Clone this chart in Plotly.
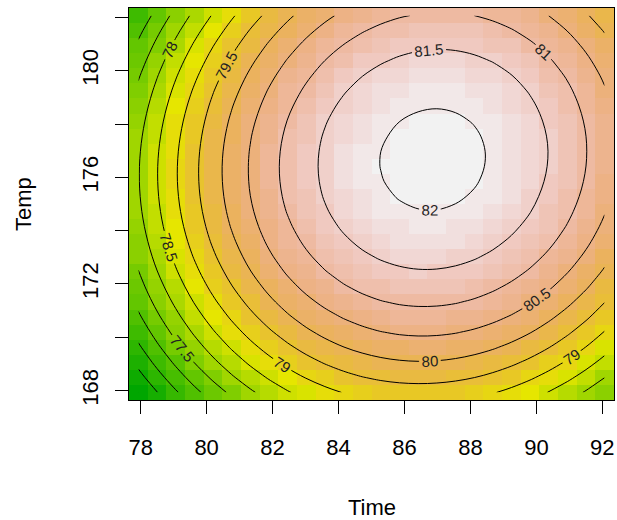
import colorsys
import numpy as np
import plotly.graph_objects as go

# Fitted second-order response surface (coded units: x1=(Time-85)/5, x2=(Temp-175)/5)
coef_names = ["(Intercept)", "x1", "x2", "x1:x2", "x1^2", "x2^2"]
coef_values = [81.866, 0.932738, 0.577837, 0.125, -1.308348, -0.933348]
time_center, time_step = 85.0, 5.0
temp_center, temp_step = 175.0, 5.0
coded_limit = np.sqrt(2)          # axial distance of the design
grid_points = 26

# contour levels
level_start, level_end, level_size = 75.5, 82.0, 0.5

# axis ticks
x_ticks = [78, 80, 82, 84, 86, 88, 90, 92]
y_ticks = [168, 170, 172, 174, 176, 178, 180, 182]
y_tick_text = ["168", "", "172", "", "176", "", "180", ""]

# ---------------------------------------------------------------
coef = dict(zip(coef_names, coef_values))
x1 = np.linspace(-coded_limit, coded_limit, grid_points)
x2 = np.linspace(-coded_limit, coded_limit, grid_points)
time = time_center + time_step * x1
temp = temp_center + temp_step * x2
X1, X2 = np.meshgrid(x1, x2)
Z = (coef["(Intercept)"] + coef["x1"] * X1 + coef["x2"] * X2 + coef["x1:x2"] * X1 * X2
     + coef["x1^2"] * X1 ** 2 + coef["x2^2"] * X2 ** 2)


def terrain_colors(n):
    k = n // 2
    cols = []
    h = np.linspace(4 / 12, 2 / 12, k)
    s = np.linspace(1, 1, k)
    v = np.linspace(0.65, 0.9, k)
    h2 = np.linspace(2 / 12, 0, n - k + 1)[1:]
    s2 = np.linspace(1, 0, n - k + 1)[1:]
    v2 = np.linspace(0.9, 0.95, n - k + 1)[1:]
    for hh, ss, vv in zip(np.r_[h, h2], np.r_[s, s2], np.r_[v, v2]):
        r, g, b = colorsys.hsv_to_rgb(hh, ss, vv)
        cols.append("rgb(%d,%d,%d)" % (round(r * 255), round(g * 255), round(b * 255)))
    return cols


ncol = 50
cols = terrain_colors(ncol)
cscale = []
for i, c in enumerate(cols):
    cscale.append([i / ncol, c])
    cscale.append([(i + 1) / ncol, c])

fig = go.Figure()
fig.add_trace(go.Heatmap(x=time, y=temp, z=Z, colorscale=cscale, zmin=Z.min(), zmax=Z.max(),
                         showscale=False, hoverinfo="skip"))
fig.add_trace(go.Contour(
    x=time, y=temp, z=Z, showscale=False,
    contours=dict(start=level_start, end=level_end, size=level_size, coloring="none",
                  showlabels=True,
                  labelfont=dict(size=15, color="#222222", family="Liberation Sans")),
    line=dict(color="black", width=1),
))

half_x = (time[1] - time[0]) / 2
half_y = (temp[1] - temp[0]) / 2
axis_font = dict(family="Liberation Sans", size=22, color="black")
fig.update_layout(
    width=617, height=520,
    margin=dict(l=129, r=3, t=8, b=120),
    paper_bgcolor="white", plot_bgcolor="white",
    font=axis_font,
    showlegend=False,
    xaxis=dict(range=[time[0] - half_x, time[-1] + half_x], tickvals=x_ticks,
               ticks="outside", ticklen=13, tickwidth=1, tickcolor="black",
               ticklabelstandoff=15,
               showline=True, mirror=True, linecolor="black", linewidth=1,
               showgrid=False, zeroline=False, tickfont=axis_font),
    yaxis=dict(range=[temp[0] - half_y, temp[-1] + half_y], tickvals=y_ticks,
               ticktext=y_tick_text, tickangle=-90,
               ticks="outside", ticklen=13, tickwidth=1, tickcolor="black",
               ticklabelstandoff=8,
               showline=True, mirror=True, linecolor="black", linewidth=1,
               showgrid=False, zeroline=False, tickfont=axis_font),
    annotations=[
        dict(text="Time", xref="paper", yref="paper", x=0.5, y=(400 - 507) / 392,
             showarrow=False, xanchor="center", yanchor="middle", font=axis_font),
        dict(text="Temp", xref="paper", yref="paper", x=(23 - 129) / 485, y=0.5,
             showarrow=False, xanchor="center", yanchor="middle", textangle=-90,
             font=axis_font),
    ],
)
fig.write_html("out.html")
